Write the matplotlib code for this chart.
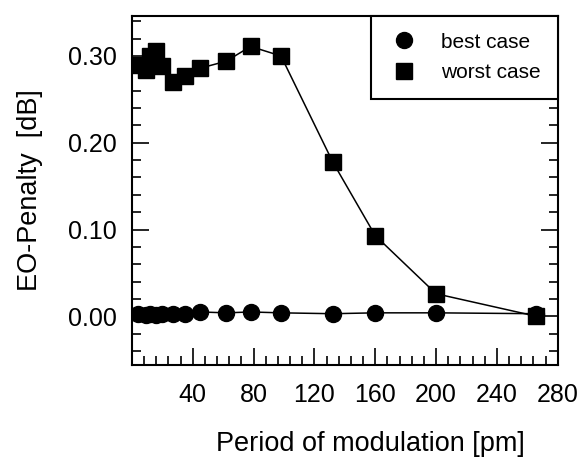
import numpy as np
import matplotlib
matplotlib.use("Agg")
import matplotlib.pyplot as plt
from matplotlib.ticker import MultipleLocator

plt.rcParams['font.family'] = ['Liberation Sans', 'DejaVu Sans']

# period of modulation [pm]
period = [4, 9, 12, 16, 20, 27, 35, 45, 62, 78, 98, 132, 160, 200, 266]
# EO-penalty [dB]
best_case = [0.003, 0.002, 0.003, 0.002, 0.003, 0.003, 0.003, 0.005,
             0.004, 0.005, 0.004, 0.003, 0.004, 0.004, 0.003]
worst_case = [0.290, 0.284, 0.300, 0.306, 0.289, 0.270, 0.277, 0.286,
              0.294, 0.311, 0.300, 0.178, 0.093, 0.026, 0.000]

xticks = [40, 80, 120, 160, 200, 240, 280]
yticks = [0.00, 0.10, 0.20, 0.30]

fig = plt.figure(figsize=(5.84, 4.59), dpi=100, facecolor="w")
ax = fig.add_axes([0.226, 0.205, 0.729, 0.760])

ax.plot(period, worst_case, c='k', lw=1.1, zorder=2)
ax.plot(period, worst_case, ls='none', marker='s', ms=11, c='k',
        label='worst case', zorder=3)
ax.plot(period, best_case, c='k', lw=1.1, zorder=4)
ax.plot(period, best_case, ls='none', marker='o', ms=11.5, c='k',
        label='best case', zorder=5)

ax.set_xlim(0, 280)
ax.set_ylim(-0.056, 0.346)
ax.set_xticks(xticks)
ax.set_xticklabels([str(t) for t in xticks])
ax.xaxis.set_minor_locator(MultipleLocator(8))
ax.set_yticks(yticks)
ax.set_yticklabels(["%.2f" % t for t in yticks])
ax.yaxis.set_minor_locator(MultipleLocator(0.02))

for s in ax.spines.values():
    s.set_linewidth(1.5)
ax.tick_params(axis='x', which='both', direction='in', top=False,
               labelsize=18, pad=13, width=1.2)
ax.tick_params(axis='y', which='both', direction='in', right=True,
               labelsize=18, pad=11, width=1.2)
ax.tick_params(which='major', length=12)
ax.tick_params(which='minor', length=6.5)

ax.set_xlabel("Period of modulation [pm]", fontsize=19.5)
ax.xaxis.set_label_coords(0.561, -0.19)
ax.set_ylabel("EO-Penalty  [dB]", fontsize=19.5, labelpad=18)

h, l = ax.get_legend_handles_labels()
leg = ax.legend(h[::-1], l[::-1], loc='upper right', bbox_to_anchor=(1, 1),
                borderaxespad=0, fontsize=15, numpoints=1, fancybox=False,
                edgecolor='k', framealpha=1, borderpad=0.8,
                handlelength=1.6, handletextpad=1.0, labelspacing=0.55)
leg.get_frame().set_linewidth(1.5)

plt.savefig("out.png", dpi=100, facecolor="w")
